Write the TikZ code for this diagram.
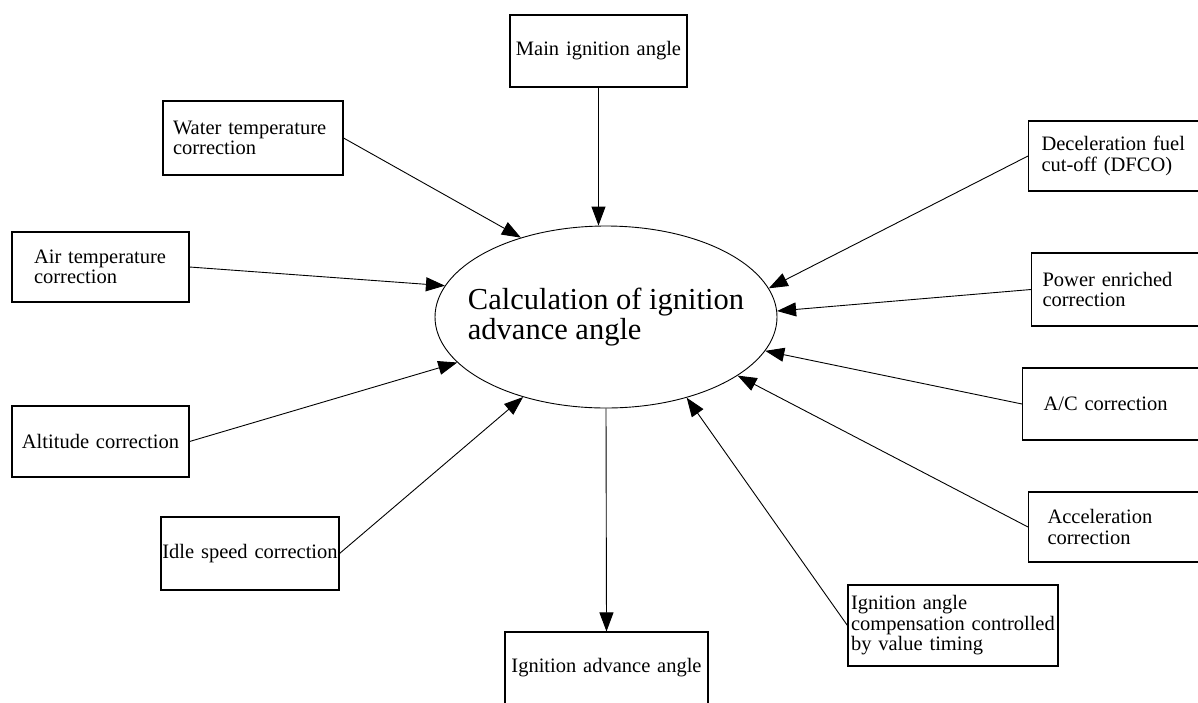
\documentclass[tikz,border=0pt]{standalone}
\usepackage{fontspec}
\setmainfont{Liberation Serif}
\usetikzlibrary{shapes.geometric, arrows.meta}

\begin{document}
\begin{tikzpicture}[
       x=1pt, y=-1pt,
       box/.style={draw, line width=1.1pt, inner ysep=0pt, align=left, font=\fontsize{20.5}{20.5}\selectfont},
       mid/.style={box, align=center, inner xsep=3pt},
       calc/.style={ellipse, draw, line width=0.9pt, inner xsep=-18pt, inner ysep=0pt,
                    minimum width=342pt, minimum height=182pt, align=left,
                    font=\fontsize{30.5}{30}\selectfont},
       feed/.style={line width=0.9pt, -{Triangle[length=19pt, width=14pt]}}
   ]

   \useasboundingbox (0,0) rectangle (1198,702);
   \clip (0,0) rectangle (1198,702);

   \node[calc] (calc) at (606,317) {Calculation of ignition\\advance angle};

   % top and bottom
   \node[mid, text width=171pt, minimum height=72pt] (main) at (598.5,51) {Main ignition angle};
   \node[mid, text width=197pt, minimum height=72pt] (out) at (606.5,668) {Ignition advance angle};

   % left column
   \node[box, text width=160pt, inner xsep=10pt, minimum height=74pt] (water) at (253,138) {Water temperature\\correction};
   \node[box, text width=133pt, inner xsep=22pt, minimum height=70pt] (air) at (100.5,267) {Air temperature\\correction};
   \node[mid, text width=171pt, minimum height=71pt] (alt) at (100.5,441.5) {Altitude correction};
   \node[mid, text width=178pt, inner xsep=0pt, minimum height=73pt] (idle) at (250,553.5) {Idle speed correction};

   % right column
   \node[box, anchor=west, text width=180pt, inner xsep=13pt, minimum height=70pt] (dfco) at (1028,156) {Deceleration fuel\\cut-off (DFCO)};
   \node[box, anchor=west, text width=180pt, inner xsep=11pt, minimum height=73pt] (power) at (1031,289.5) {Power enriched\\correction};
   \node[box, anchor=west, text width=180pt, inner xsep=21pt, minimum height=72pt] (ac) at (1022,404) {A/C correction};
   \node[box, anchor=west, text width=180pt, inner xsep=19pt, minimum height=70pt] (accel) at (1028,527) {Acceleration\\correction};
   \node[box, text width=204pt, inner xsep=3pt, minimum height=81pt] (comp) at (953,625.5) {Ignition angle\\compensation controlled\\by value timing};

   \draw[feed] (main.south) -- (main.south |- calc.north);
   \draw[feed] (calc.south) -- (out.north);

   \foreach \src/\ang in {water.east/137, air.east/169, alt.east/197, idle.east/224,
                          comp.west/315, accel.west/336, ac.west/348, power.west/2, dfco.west/10} {
       \draw[feed] (\src) -- (calc.\ang);
   }
   \end{tikzpicture}
\end{document}
